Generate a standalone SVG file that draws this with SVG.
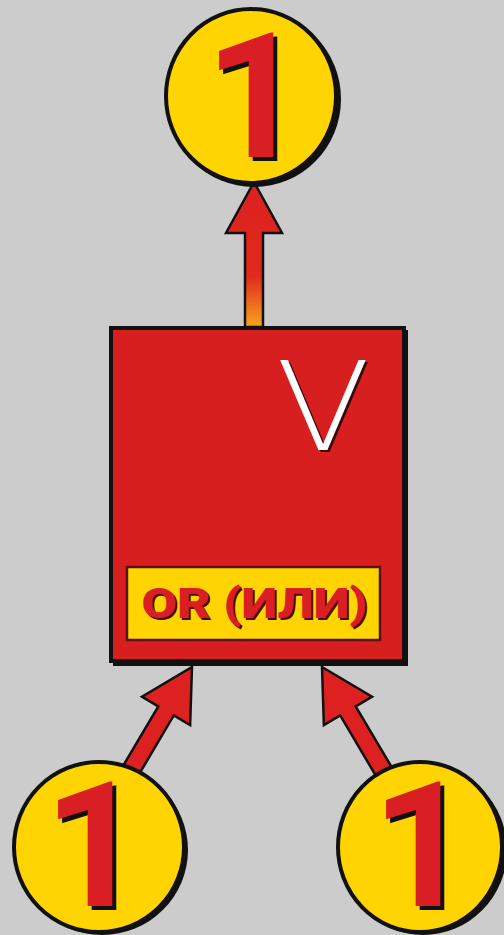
<svg xmlns="http://www.w3.org/2000/svg" width="504" height="935" viewBox="0 0 504 935">
<defs>
<linearGradient id="shaftGrad" x1="0" y1="0" x2="0" y2="1">
<stop offset="0" stop-color="#dd2020"/>
<stop offset="0.65" stop-color="#e02a1c"/>
<stop offset="1" stop-color="#f7a51c"/>
</linearGradient>
<style>
.arrow{fill:#dd2020;stroke:#111;stroke-width:2.5;stroke-linejoin:miter}
.circ{fill:#ffd400;stroke:#111;stroke-width:4}
.shadow{fill:#111}
.one{font-family:Roboto,"Liberation Sans",sans-serif;font-weight:bold;font-size:175px;text-anchor:middle}
.oneFill{fill:#d91e24}
.oneSh{fill:#111}
.lbl{font-family:Roboto,"Liberation Sans",sans-serif;font-weight:900;font-size:43px;text-anchor:middle}
</style>
</defs>
<rect width="504" height="935" fill="#cccccc"/>
<g id="connectors">
<path class="arrow" d="M254,182 L282,233 L263,233 L263,327 L245,327 L245,233 L226,233 Z" style="fill:url(#shaftGrad)"/>
<g transform="translate(192,667) rotate(30.6)">
<path class="arrow" d="M0,0 L28,51 L9,51 L9,130 L-9,130 L-9,51 L-28,51 Z"/>
</g>
<g transform="translate(322,667) rotate(-30.6)">
<path class="arrow" d="M0,0 L28,51 L9,51 L9,130 L-9,130 L-9,51 L-28,51 Z"/>
</g>
</g>
<g id="gate">
<rect class="shadow" x="113" y="330" width="295" height="336"/>
<rect x="111" y="328" width="293" height="333" fill="#d71f1f" stroke="#111" stroke-width="4"/>
<g transform="translate(323,450) scale(1.12,1)">
<text x="2" y="2" font-family="DejaVu Sans, sans-serif" font-weight="300" font-size="123" text-anchor="middle" fill="#3a0a0a">V</text>
<text x="0" y="0" font-family="DejaVu Sans, sans-serif" font-weight="300" font-size="123" text-anchor="middle" fill="#ffffff">V</text>
</g>
<rect x="127" y="567" width="253" height="73" fill="#ffd400" stroke="#5a1010" stroke-width="2.5"/>
<text class="lbl" x="256.5" y="620" fill="#4a0a0a" textLength="226" lengthAdjust="spacingAndGlyphs">OR (ИЛИ)</text>
<text class="lbl" x="254.5" y="618" fill="#d91e24" textLength="226" lengthAdjust="spacingAndGlyphs">OR (ИЛИ)</text>
</g>
<g id="out">
<ellipse class="shadow" cx="254" cy="99" rx="87" ry="88"/>
<ellipse class="circ" cx="251" cy="96" rx="85" ry="87"/>
<text class="one oneSh" x="259" y="161">1</text>
<text class="one oneFill" x="255" y="157">1</text>
</g>
<g id="in1">
<ellipse class="shadow" cx="102" cy="850" rx="86" ry="85"/>
<ellipse class="circ" cx="99" cy="847" rx="85" ry="85"/>
<text class="one oneSh" x="98" y="910">1</text>
<text class="one oneFill" x="94" y="906">1</text>
</g>
<g id="in2">
<ellipse class="shadow" cx="423" cy="850" rx="84" ry="85"/>
<ellipse class="circ" cx="420" cy="847" rx="82" ry="85"/>
<text class="one oneSh" x="426" y="910">1</text>
<text class="one oneFill" x="422" y="906">1</text>
</g>
</svg>
